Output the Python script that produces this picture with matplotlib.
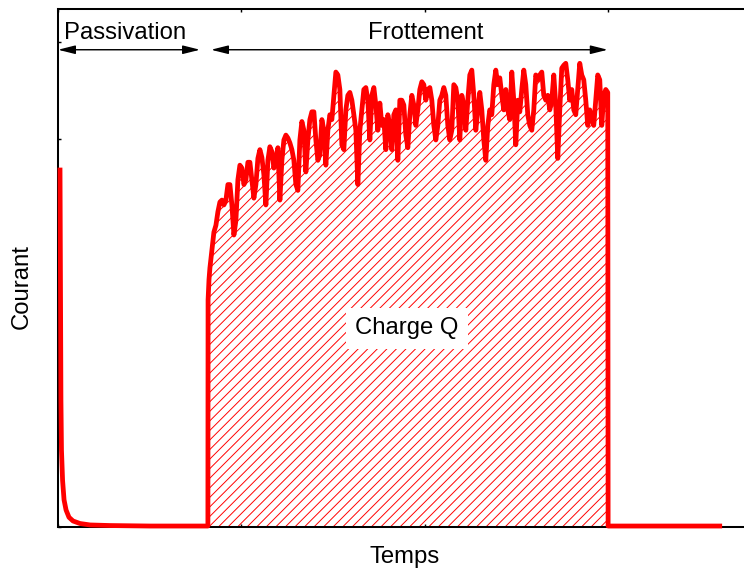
#!/usr/bin/env python3
"""
Courant en fonction du temps : passivation puis frottement,
avec la charge Q hachurée sous le plateau de frottement.
"""

import matplotlib
matplotlib.use("Agg")
import matplotlib.pyplot as plt
import numpy as np

# ── Données (temps en s, courant en unités arbitraires) ──
# décroissance de passivation
t_passiv = [1.1, 1.4, 1.6, 1.9, 2.5, 3.3, 4.4, 6.0, 8.2, 12.0, 17.5, 28.4, 50.2, 81.3]
i_passiv = [3.68, 2.34, 1.31, 0.79, 0.48, 0.28, 0.175, 0.10, 0.062, 0.036, 0.021, 0.015, 0.01, 0.01]

# montée au début du frottement
t_montee = [81.8, 81.9, 82.4]
i_montee = [0.01, 2.34, 2.55]

# plateau de frottement, échantillonné régulièrement entre T_DEBUT et T_FIN
T_DEBUT = 82.9
T_FIN = 300.0
i_frott = [
    2.67, 2.86, 3.04, 3.11, 3.25, 3.35, 3.37, 3.32, 3.37, 3.53,
    3.53, 3.32, 3.01, 3.16, 3.58, 3.73, 3.70, 3.53, 3.58, 3.76,
    3.76, 3.58, 3.39, 3.53, 3.80, 3.89, 3.81, 3.63, 3.32, 3.78,
    3.92, 3.87, 3.70, 3.80, 3.91, 3.37, 3.78, 3.99, 4.04, 4.01,
    3.96, 3.89, 3.78, 3.53, 3.47, 3.99, 4.18, 4.09, 3.66, 3.99,
    4.20, 4.28, 4.28, 3.99, 3.78, 3.84, 4.20, 4.09, 3.73, 4.09,
    4.25, 4.20, 4.45, 4.69, 4.66, 4.51, 3.94, 3.89, 4.30, 4.45,
    4.48, 4.40, 4.25, 4.09, 3.53, 4.09, 4.30, 4.51, 4.53, 4.40,
    3.99, 4.45, 4.53, 4.35, 4.09, 4.37, 4.14, 4.20, 3.89, 4.25,
    4.14, 3.89, 4.25, 4.30, 3.78, 4.40, 4.40, 4.35, 4.04, 3.91,
    4.25, 4.45, 4.35, 4.14, 4.30, 4.51, 4.59, 4.56, 4.40, 4.51,
    4.53, 4.40, 4.14, 3.99, 4.14, 4.40, 4.45, 4.53, 4.45, 4.14,
    3.99, 4.09, 4.56, 4.53, 4.40, 3.99, 4.45, 4.35, 4.09, 4.40,
    4.66, 4.71, 4.45, 4.09, 4.30, 4.48, 4.30, 3.99, 3.78, 4.14,
    4.30, 4.25, 4.56, 4.71, 4.56, 4.63, 4.45, 4.30, 4.51, 4.30,
    4.20, 4.69, 4.40, 3.94, 4.40, 4.28, 4.51, 4.71, 4.56, 4.25,
    4.14, 4.09, 4.30, 4.66, 4.61, 4.66, 4.69, 4.45, 4.40, 4.45,
    4.30, 4.40, 4.66, 4.35, 3.80, 4.30, 4.73, 4.76, 4.78, 4.61,
    4.40, 4.51, 4.30, 4.25, 4.51, 4.78, 4.66, 4.61, 4.40, 4.14,
    4.30, 4.20, 4.14, 4.40, 4.66, 4.61, 4.14, 4.45, 4.51, 4.48,
]

# retour à zéro après l'arrêt du frottement
t_arret = [300.2, 361.1]
i_arret = [0.01, 0.01]

DPI = 86
ROUGE = "#ff0000"

plt.rcParams["font.family"] = ["Liberation Sans", "DejaVu Sans"]
plt.rcParams["hatch.linewidth"] = 0.8
plt.rcParams["hatch.color"] = ROUGE


def main():
    t_fr = np.linspace(T_DEBUT, T_FIN, len(i_frott))

    t = np.concatenate([t_passiv, t_montee, t_fr, t_arret])
    i = np.concatenate([i_passiv, i_montee, i_frott, i_arret])

    fig = plt.figure(figsize=(744 / DPI, 569 / DPI), dpi=DPI)
    ax = fig.add_axes([58 / 744, 42 / 569, 733 / 744, 518 / 569])

    # zone hachurée = charge Q
    t_q = np.concatenate([t_montee, t_fr, [t_arret[0]]])
    i_q = np.concatenate([i_montee, i_frott, [i_arret[0]]])
    ax.fill_between(t_q, 0, i_q, facecolor="none", edgecolor=ROUGE,
                    hatch="///", linewidth=0, zorder=1)

    ax.plot(t, i, color=ROUGE, linewidth=4.0, solid_joinstyle="round",
            zorder=3, clip_on=False)

    ax.set_xlim(0, 400)
    ax.set_ylim(0, 5.34)
    ax.set_xticks([0, 100, 200, 300])
    ax.set_yticks([0, 1, 2, 3, 4, 5])
    ax.tick_params(direction="in", length=2.5, width=1.2,
                   top=True, right=True, labelbottom=False, labelleft=False)
    for sp in ax.spines.values():
        sp.set_linewidth(1.7)

    # flèches des deux phases
    fleche = dict(arrowstyle="<|-|>,head_length=0.6,head_width=0.15",
                  color="black", lw=1.2, shrinkA=0, shrinkB=0,
                  mutation_scale=20)
    ax.annotate("", xy=(0, 4.92), xytext=(77.5, 4.92), arrowprops=fleche)
    ax.annotate("", xy=(83.5, 4.92), xytext=(300, 4.92), arrowprops=fleche)

    ax.text(36.5, 5.09, "Passivation", fontsize=20, ha="center", va="center")
    ax.text(200.7, 5.09, "Frottement", fontsize=20, ha="center", va="center")
    ax.text(190.4, 2.05, "Charge Q", fontsize=20, ha="center", va="center",
            zorder=4, bbox=dict(boxstyle="square,pad=0.4", facecolor="white",
                                edgecolor="none"))

    ax.set_xlabel("Temps", fontsize=20)
    ax.set_ylabel("Courant", fontsize=20)
    ax.xaxis.set_label_coords((405 - 58) / 733, (527 - 557) / 518)
    ax.xaxis.label.set_va("center")
    ax.yaxis.set_label_coords((22 - 58) / 733, (527 - 287) / 518)
    ax.yaxis.label.set_va("center")

    fig.savefig("out.png", dpi=DPI)


if __name__ == "__main__":
    main()
